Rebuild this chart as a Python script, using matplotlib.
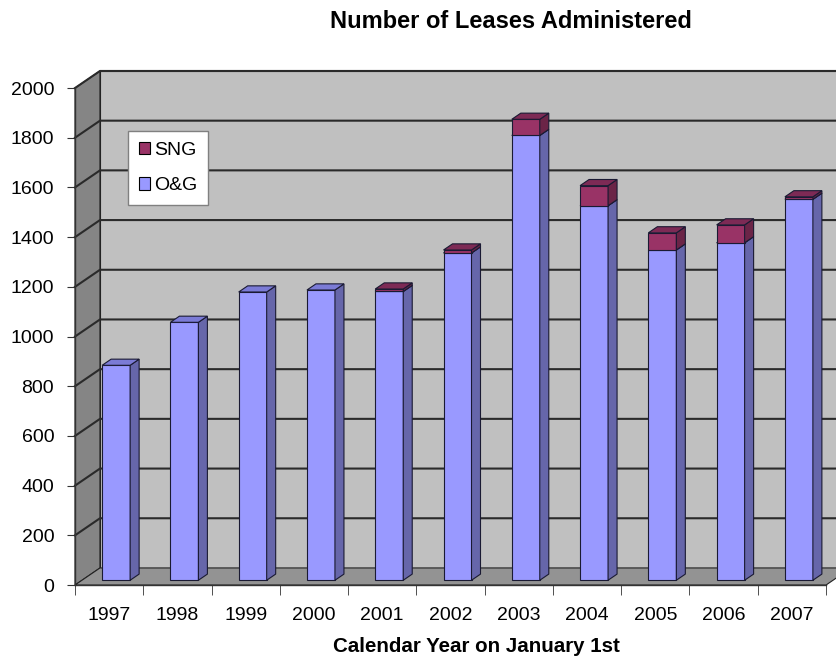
import matplotlib.pyplot as plt
import numpy as np
from matplotlib.patches import Polygon, Patch

plt.rcParams['font.family'] = ['Liberation Sans', 'DejaVu Sans']

years = ['1997', '1998', '1999', '2000', '2001', '2002',
         '2003', '2004', '2005', '2006', '2007']
og = [865, 1038, 1160, 1168, 1162, 1317, 1790, 1507, 1329, 1358, 1533]
sng = [0, 0, 0, 0, 10, 12, 65, 81, 69, 72, 10]
yticks = list(range(0, 2001, 200))

# oblique "3d" offsets (data units for depth = 1)
DX = 0.366
DY = 68.7
Z_FRONT, Z_BACK = 0.28, 0.64
W = 0.41


def P(x, y, z):
    return (x + z * DX, y + z * DY)


def poly(ax, pts, fc, ec='#222222', lw=0.8, zorder=1):
    ax.add_patch(Polygon(pts, closed=True, facecolor=fc, edgecolor=ec,
                         linewidth=lw, zorder=zorder, clip_on=False))


def box(ax, x, y0, y1, front, side, top, zorder):
    xl, xr = x - W / 2, x + W / 2
    poly(ax, [P(xl, y0, Z_FRONT), P(xr, y0, Z_FRONT),
              P(xr, y1, Z_FRONT), P(xl, y1, Z_FRONT)], front, ec='#1a1a33', zorder=zorder)
    poly(ax, [P(xr, y0, Z_FRONT), P(xr, y0, Z_BACK),
              P(xr, y1, Z_BACK), P(xr, y1, Z_FRONT)], side, ec='#1a1a33', zorder=zorder)
    poly(ax, [P(xl, y1, Z_FRONT), P(xr, y1, Z_FRONT),
              P(xr, y1, Z_BACK), P(xl, y1, Z_BACK)], top, ec='#1a1a33', zorder=zorder)


fig = plt.figure(figsize=(8.37, 6.58), dpi=100)
ax = fig.add_axes([0.0896, 0.1109, 0.8973, 0.7553])
ax.set_xlim(-0.5, 10.5)
ax.set_ylim(0, 2000)
ax.set_facecolor('none')

n = len(years)
x0, x1 = -0.5, n - 0.5

# side wall, back wall
poly(ax, [P(x0, 0, 0), P(x0, 0, 1), P(x0, 2000, 1), P(x0, 2000, 0)], '#858585', zorder=1)
poly(ax, [P(x0, 0, 1), P(x1, 0, 1), P(x1, 2000, 1), P(x0, 2000, 1)], '#c0c0c0', zorder=1)

# gridlines
for v in yticks[1:]:
    pts = [P(x0, v, 0), P(x0, v, 1), P(x1, v, 1)]
    ax.plot([p[0] for p in pts], [p[1] for p in pts], color='#2a2a2a',
            lw=1.5, zorder=2, clip_on=False)

# floor
poly(ax, [P(x0, 0, 0), P(x1, 0, 0), P(x1, 0, 1), P(x0, 0, 1)], '#939393', zorder=3)

# bars
for i in range(n):
    box(ax, i, 0, og[i], '#9999ff', '#6666aa', '#7b7bd6', zorder=4)
    if sng[i] > 0:
        box(ax, i, og[i], og[i] + sng[i], '#993366', '#6b2447', '#7d2a55', zorder=5)

# axes styling
for s in ['top', 'right']:
    ax.spines[s].set_visible(False)
for s in ['left', 'bottom']:
    ax.spines[s].set_color('#333333')
    ax.spines[s].set_linewidth(1.0)
    ax.spines[s].set_zorder(6)

ax.set_yticks(yticks)
ax.tick_params(axis='y', direction='out', length=6, pad=9, labelsize=14,
               color='#333333')
ax.set_xticks(range(n))
ax.set_xticklabels(years)
ax.set_xticks(np.arange(-0.5, n, 1), minor=True)
ax.tick_params(axis='x', which='major', length=0, pad=16, labelsize=14)
ax.tick_params(axis='x', which='minor', direction='out', length=7, color='#333333')

fig.text(511 / 837, 1 - 21 / 658, 'Number of Leases Administered',
         ha='center', va='center', fontsize=17, fontweight='bold')
fig.text(476 / 837, 1 - 646 / 658, 'Calendar Year on January 1st',
         ha='center', va='center', fontsize=14.8, fontweight='bold')

handles = [Patch(facecolor='#993366', edgecolor='black', lw=0.8, label='SNG'),
           Patch(facecolor='#9999ff', edgecolor='black', lw=0.8, label='O&G')]
leg = ax.legend(handles=handles, loc='upper left', bbox_to_anchor=(0.0706, 0.9135),
                borderaxespad=0, fontsize=14, handlelength=0.6, handleheight=0.6,
                handletextpad=0.2, labelspacing=0.95, borderpad=0.55,
                fancybox=False, framealpha=1, edgecolor='#808080')
leg.set_zorder(10)

fig.savefig('out.png', dpi=100)
